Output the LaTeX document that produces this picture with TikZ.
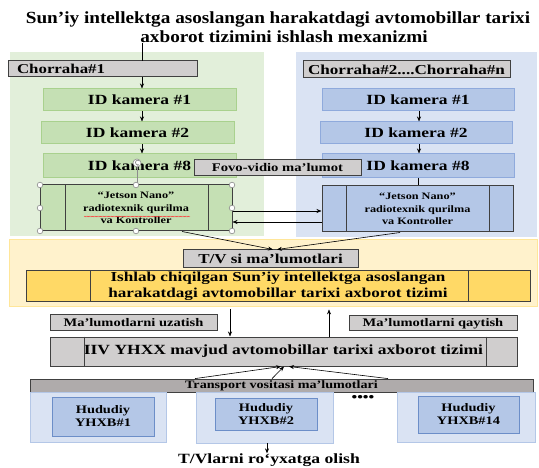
\documentclass[tikz,border=0pt]{standalone}
\usepackage{fontspec}
\setmainfont{Liberation Serif}[FakeStretch=1.25]
\newfontfamily\titlefont{Liberation Serif}[FakeStretch=1.13]
\usetikzlibrary{arrows.meta,decorations.pathmorphing}
\definecolor{greenbg}{HTML}{E2EFDA}
\definecolor{greenbox}{HTML}{C5E0B4}
\definecolor{greenline}{HTML}{A9D18E}
\definecolor{bluebg}{HTML}{DAE3F3}
\definecolor{bluebox}{HTML}{B4C7E7}
\definecolor{blueline}{HTML}{8FAADC}
\definecolor{graybox}{HTML}{D0CECE}
\definecolor{darkline}{HTML}{404040}
\definecolor{yellowbg}{HTML}{FFF2CC}
\definecolor{yellowline}{HTML}{FFE699}
\definecolor{yellowbox}{HTML}{FFD966}
\definecolor{transbar}{HTML}{AFABAB}
\definecolor{hudline}{HTML}{6C8EC8}
\definecolor{handle}{HTML}{8C8C8C}
\newcommand\fsz[1]{\fontsize{#1}{#1}\selectfont}
\begin{document}
\begin{tikzpicture}[x=1pt,y=-1pt,
  base/.style={rectangle, inner sep=0pt, font=\bfseries, align=center},
  sz/.style 2 args={minimum width=#1pt, minimum height=#2pt},
  region/.style={base, fill=#1},
  gbox/.style={base, fill=greenbox, draw=greenline, line width=1pt, font=\bfseries\fsz{14}},
  bbox/.style={base, fill=bluebox, draw=blueline, line width=1pt, font=\bfseries\fsz{14}},
  graybx/.style={base, fill=graybox, draw=darkline, line width=1pt},
  jet/.style={base, draw=darkline, line width=1pt, font=\bfseries\fontsize{9.8}{12.3}\selectfont},
  hud/.style={base, fill=bluebox, draw=hudline, line width=0.8pt, font=\bfseries\fontsize{11.5}{13}\selectfont},
  hudreg/.style={base, fill=bluebg, draw=bluebox, line width=0.8pt},
  arr/.style={-{Stealth[length=5pt,width=4pt]}, line width=0.6pt, black},
  plain/.style={line width=0.6pt, black},
  hdl/.style={draw=handle, fill=white, line width=0.6pt}
]
\useasboundingbox (0,0) rectangle (539,468);
\fill[white] (0,0) rectangle (539,468);

% title
\node[base, font=\titlefont\bfseries\fontsize{17}{19.5}\selectfont] (title) at (278,27)
  {Sun’iy intellektga asoslangan harakatdagi avtomobillar tarixi\\\hspace*{12pt}axborot tizimini ishlash mexanizmi};

% regions
\node[region=greenbg, sz={254}{184}] (greg) at (137,144) {};
\node[region=bluebg, sz={241}{185}] (breg) at (416.5,144.5) {};
\node[region=yellowbg, draw=yellowline, line width=0.8pt, sz={528}{67}] (ylw) at (273,272.5) {};

% green column
\node[graybx, sz={189}{16}, text width=171pt, align=left, font=\bfseries\fsz{13.5}] (ch1) at (102.5,69) {Chorraha\#1};
\node[gbox, sz={193}{22}] (gk1) at (139.5,100) {ID kamera \#1};
\node[gbox, sz={193}{22}] (gk2) at (137.5,133) {ID kamera \#2};
\node[gbox, sz={193}{24}] (gk8) at (139.5,166) {ID kamera \#8};
\node[jet, fill=greenbox, sz={192}{46}] (gjet) at (136,208) {“Jetson Nano”\\radiotexnik qurilma\\va Kontroller};
\draw[darkline, line width=1pt] (gjet.north -| 65,0) -- (gjet.south -| 65,0);
\draw[darkline, line width=1pt] (gjet.north -| 208,0) -- (gjet.south -| 208,0);
\draw[red!80, line width=0.3pt, decorate, decoration={snake, amplitude=0.45pt, segment length=1.6pt}] (84,216.5) -- (190,216.5);

% blue column
\node[graybx, sz={207}{17}, font=\bfseries\fsz{13.7}] (ch2) at (406.5,69.5) {Chorraha\#2....Chorraha\#n};
\node[bbox, sz={192}{22}] (bk1) at (418,100) {ID kamera \#1};
\node[bbox, sz={192}{22}] (bk2) at (416,133) {ID kamera \#2};
\node[bbox, sz={192}{24}] (bk8) at (418,166) {ID kamera \#8};
\node[jet, fill=bluebox, sz={191}{46}] (bjet) at (417.5,209) {“Jetson Nano”\\radiotexnik qurilma\\va Kontroller};
\draw[darkline, line width=1pt] (bjet.north -| 346,0) -- (bjet.south -| 346,0);
\draw[darkline, line width=1pt] (bjet.north -| 489,0) -- (bjet.south -| 489,0);

% fovo-vidio label
\node[graybx, sz={167}{16}, font=\bfseries\fsz{11.7}] (fovo) at (277.5,168) {Fovo-vidio ma’lumot};

% arrows in columns
\coordinate (tin) at (142,61);
\draw[plain] (title.south -| tin) -- (tin);
\draw[arr] (ch1.south -| 142,0) -- (gk1.north -| 142,0);
\draw[arr] (gk1.south -| 142,0) -- (gk2.north -| 142,0);
\draw[arr] (gk2.south -| 142,0) -- (gk8.north -| 142,0);
\draw[arr] (bk1.south -| 419,0) -- (bk2.north -| 419,0);
\draw[arr] (bk2.south -| 419,0) -- (bk8.north -| 419,0);
\draw[plain] (bk8.south -| 418,0) -- (bjet.north -| 418,0);
\draw[arr] (gjet.east |- 0,211) -- (bjet.west |- 0,211);
\draw[arr] (bjet.west |- 0,222) -- (gjet.east |- 0,222);

% selection handles
\draw[handle, line width=0.6pt] (137,167) -- (gjet.north -| 137,0);
\draw[hdl] (137,163) circle[radius=4pt];
\draw[handle, line width=0.7pt, -{Stealth[length=2pt,width=2pt]}] (139.5,161) arc[start angle=40, end angle=300, radius=2.3pt];
\foreach \hx/\hy in {40/185, 136/185, 232/185, 40/208, 232/208, 40/231, 136/231, 232/231}
  \draw[hdl] (\hx,\hy) circle[radius=2.8pt];

% yellow part
\node[graybx, sz={175}{18}, font=\bfseries\fsz{13.6}] (tv) at (270.5,259) {T/V si ma’lumotlari};
\node[base, fill=yellowbox, draw=darkline, line width=1pt, sz={504}{31}, font=\bfseries\fontsize{13.7}{15.5}\selectfont] (ish) at (278,286.5)
  {Ishlab chiqilgan Sun’iy intellektga asoslangan\\harakatdagi avtomobillar tarixi axborot tizimi};
\draw[darkline, line width=1pt] (ish.north -| 90,0) -- (ish.south -| 90,0);
\draw[darkline, line width=1pt] (ish.north -| 468,0) -- (ish.south -| 468,0);
\draw[arr] (gjet.south -| 182,0) -- (tv.north -| 273,0);
\draw[arr] (bjet.south -| 400,0) -- (tv.north -| 277,0);

% middle part
\node[graybx, sz={167}{16}, font=\bfseries\fsz{11.6}] (uza) at (133.5,323) {Ma’lumotlarni uzatish};
\node[graybx, sz={168}{15}, font=\bfseries\fsz{11.6}] (qay) at (433,323.5) {Ma’lumotlarni qaytish};
\node[graybx, sz={467}{29}, font=\bfseries\fsz{14}] (iiv) at (283.5,351.5) {IIV YHXX mavjud avtomobillar tarixi axborot tizimi};
\draw[darkline, line width=1pt] (iiv.north -| 84,0) -- (iiv.south -| 84,0);
\draw[darkline, line width=1pt] (iiv.north -| 486,0) -- (iiv.south -| 486,0);
\draw[arr, shorten <=3pt] (ylw.south -| 230,0) -- (iiv.north -| 230,0);
\draw[arr, shorten >=3pt] (iiv.north -| 329,0) -- (ylw.south -| 329,0);

% bottom part
\node[base, fill=transbar, draw=darkline, line width=0.8pt, sz={503}{13}, font=\bfseries\fsz{11.3}] (trans) at (281.5,385.5) {Transport vositasi ma’lumotlari};
\draw[arr] (trans.north -| 195,0) -- (iiv.south -| 281,0);
\draw[arr] (trans.north -| 272,0) -- (iiv.south -| 284,0);
\draw[arr] (trans.north -| 388,0) -- (iiv.south -| 289,0);

\node[hudreg, sz={136}{50}] (r1) at (98,417) {};
\node[hud, sz={102}{39}] (h1) at (103,416.5) {Hududiy\\YHXB\#1};
\node[hudreg, sz={137}{51}] (r2) at (264.5,417.5) {};
\node[hud, sz={102}{32}] (h2) at (266,414) {Hududiy\\YHXB\#2};
\node[hudreg, sz={138}{50}] (r3) at (466,417) {};
\node[hud, sz={101}{37}] (h3) at (468.5,414.5) {Hududiy\\YHXB\#14};
\node[base, font=\bfseries\fsz{13}] (dots) at (363,398) {••••};

\node[base, font=\bfseries\fsz{14.1}] (tvl) at (269,460) {T/Vlarni ro‘yxatga olish};
\draw[arr] (r2.south -| 267,0) -- (tvl.north -| 267,0);
\end{tikzpicture}
\end{document}
